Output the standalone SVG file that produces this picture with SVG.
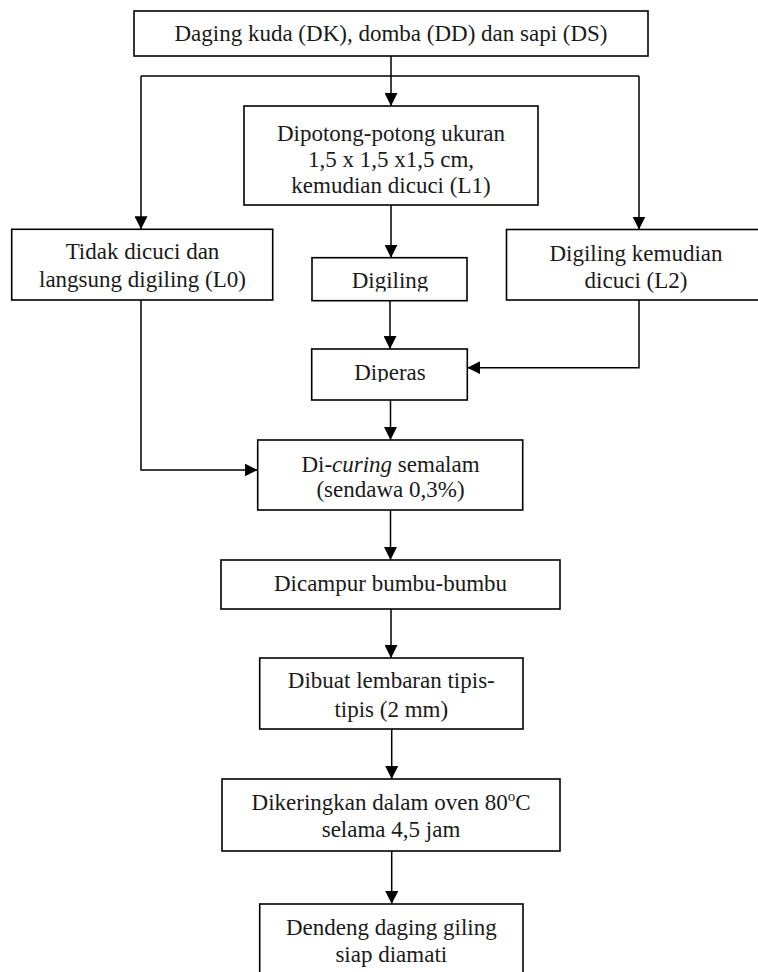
<svg xmlns="http://www.w3.org/2000/svg" width="758" height="972" viewBox="0 0 758 972">
  <style>
    .box { fill: #ffffff; stroke: #000000; stroke-width: 1.6; }
    .lbl { font-family: "Liberation Serif", "Times New Roman", serif; font-size: 23px; fill: #1a1a1a; text-anchor: middle; }
    .con { fill: none; stroke: #000000; stroke-width: 1.5; }
    .arr { marker-end: url(#ah); }
  </style>
  <defs>
    <marker id="ah" markerWidth="13" markerHeight="13" refX="13" refY="6.5" orient="auto" markerUnits="userSpaceOnUse">
      <path d="M0,0 L13,6.5 L0,13 z" fill="#000000"/>
    </marker>
    <clipPath id="clipDigiling"><rect x="312" y="257" width="155" height="34.5"/></clipPath>
    <clipPath id="clipDiperas"><rect x="312" y="349" width="155" height="33"/></clipPath>
  </defs>
  <rect width="758" height="972" fill="#ffffff"/>

  <g id="connectors">
    <path class="con arr" d="M391,56 V106"/>
    <path class="con" d="M141,76 H639"/>
    <path class="con arr" d="M141,76 V229.3"/>
    <path class="con arr" d="M639,76 V229.5"/>
    <path class="con arr" d="M391,205 V257.7"/>
    <path class="con arr" d="M390,300.7 V349"/>
    <path class="con arr" d="M639,300 V367.7 H467.3"/>
    <path class="con arr" d="M390.5,400 V440"/>
    <path class="con arr" d="M141,300 V470 H257.7"/>
    <path class="con arr" d="M390.5,510 V560"/>
    <path class="con arr" d="M391,609 V658"/>
    <path class="con arr" d="M391.7,729 V779"/>
    <path class="con arr" d="M391.7,851 V904"/>
  </g>

  <g id="n-bahan">
    <rect class="box" x="134" y="11" width="514" height="45"/>
    <text class="lbl" x="391" y="41">Daging kuda (DK), domba (DD) dan sapi (DS)</text>
  </g>

  <g id="n-dipotong">
    <rect class="box" x="244" y="106" width="294" height="99"/>
    <text class="lbl" x="391" y="140.7">Dipotong-potong ukuran</text>
    <text class="lbl" x="391" y="166.7">1,5 x 1,5 x1,5 cm,</text>
    <text class="lbl" x="391" y="192.7">kemudian dicuci (L1)</text>
  </g>

  <g id="n-l0">
    <rect class="box" x="11.7" y="229.3" width="261" height="70.7"/>
    <text class="lbl" x="142.5" y="259.3">Tidak dicuci dan</text>
    <text class="lbl" x="142.5" y="286.7">langsung digiling (L0)</text>
  </g>

  <g id="n-digiling">
    <rect class="box" x="312" y="257.7" width="155" height="43"/>
    <text class="lbl" x="390" y="288.3" clip-path="url(#clipDigiling)">Digiling</text>
  </g>

  <g id="n-l2">
    <rect class="box" x="506.5" y="229.5" width="259" height="70.5"/>
    <text class="lbl" x="636" y="260.5">Digiling kemudian</text>
    <text class="lbl" x="636" y="287.5">dicuci (L2)</text>
  </g>

  <g id="n-diperas">
    <rect class="box" x="311.7" y="349" width="155.6" height="51"/>
    <text class="lbl" x="390" y="380" clip-path="url(#clipDiperas)">Diperas</text>
  </g>

  <g id="n-curing">
    <rect class="box" x="257.7" y="440" width="265" height="70"/>
    <text class="lbl" x="390.5" y="471.7">Di-<tspan font-style="italic">curing</tspan> semalam</text>
    <text class="lbl" x="390.5" y="496.7">(sendawa 0,3%)</text>
  </g>

  <g id="n-bumbu">
    <rect class="box" x="221" y="560" width="339" height="49"/>
    <text class="lbl" x="390.5" y="590.7">Dicampur bumbu-bumbu</text>
  </g>

  <g id="n-lembaran">
    <rect class="box" x="259.7" y="658" width="263.3" height="71"/>
    <text class="lbl" x="391.3" y="688.3">Dibuat lembaran tipis-</text>
    <text class="lbl" x="391.3" y="716.7">tipis (2 mm)</text>
  </g>

  <g id="n-oven">
    <rect class="box" x="222" y="779" width="338" height="72"/>
    <text class="lbl" x="391" y="810">Dikeringkan dalam oven 80<tspan font-size="15" dy="-9">o</tspan><tspan dy="9">C</tspan></text>
    <text class="lbl" x="391" y="836.7">selama 4,5 jam</text>
  </g>

  <g id="n-dendeng">
    <rect class="box" x="259.7" y="904" width="263.3" height="80"/>
    <text class="lbl" x="391.3" y="935">Dendeng daging giling</text>
    <text class="lbl" x="391.3" y="961.7">siap diamati</text>
  </g>
</svg>
